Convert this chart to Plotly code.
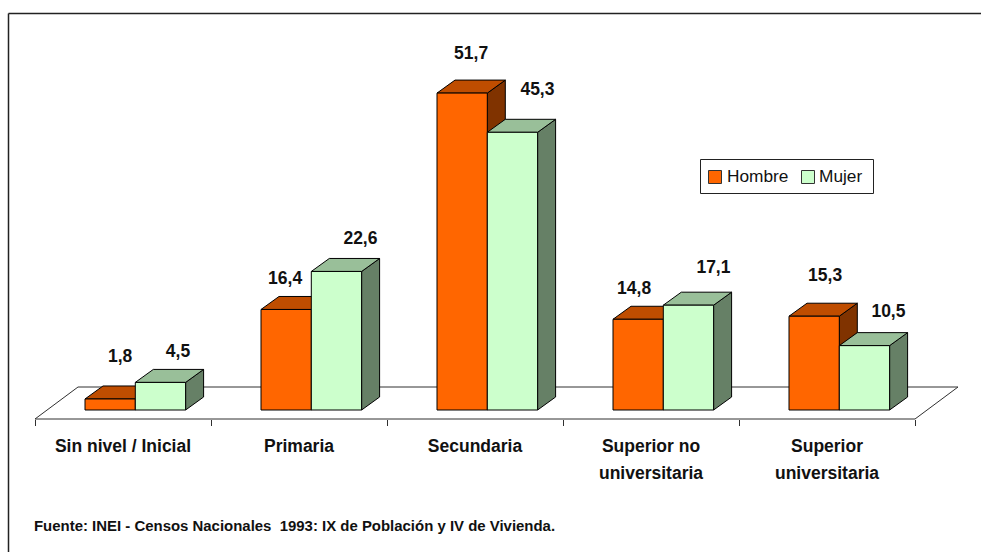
import plotly.graph_objects as go

categories = ["Sin nivel / Inicial", "Primaria", "Secundaria", "Superior no<br>universitaria", "Superior<br>universitaria"]
hombre = [1.8, 16.4, 51.7, 14.8, 15.3]
mujer = [4.5, 22.6, 45.3, 17.1, 10.5]
hombre_text = ["1,8", "16,4", "51,7", "14,8", "15,3"]
mujer_text = ["4,5", "22,6", "45,3", "17,1", "10,5"]
legend_names = ["Hombre", "Mujer"]

W, H = 981, 552
PAGE = 0.0        # page margin is removed by the post script below
PX_X = 176.0      # pixels per category
PX_Y = 6.13       # pixels per percentage point
X0_PX, Y0_PX = 35.0 - PAGE, 410.0 - PAGE
BAR_W = 50.3 / PX_X
BAR_START = 50.0 / PX_X
DX, DY = 18.0 / PX_X, 13.0 / PX_Y
FLOOR_FRONT = -9.0 / PX_Y
FLOOR_DX, FLOOR_DY = 43.0 / PX_X, 32.0 / PX_Y

# label nudges from the top-centre of each bar, in pixels
nudge_h = [(10, 41), (-1, 30), (9, 38), (-4, 30), (11, 40)]
nudge_m = [(17.5, 30), (24, 32), (25, 42), (25, 37), (24, 33)]

FONT = "Liberation Sans"
INK = "#111111"
fig = go.Figure()

def px(v):
    return (v - PAGE) / W

def py(v):
    return 1 - (v - PAGE) / H

def poly(xs, ys, fill, line="black", lw=1):
    fig.add_trace(go.Scatter(x=xs + xs[:1], y=ys + ys[:1], mode="lines", fill="toself", fillcolor=fill,
                             line=dict(color=line, width=lw), showlegend=False, hoverinfo="skip"))

# floor
fx0, fx1 = 0, len(categories)
fig.add_trace(go.Scatter(x=[fx0, fx0 + FLOOR_DX, fx1 + FLOOR_DX, fx1, fx0],
                         y=[FLOOR_FRONT, FLOOR_FRONT + FLOOR_DY, FLOOR_FRONT + FLOOR_DY, FLOOR_FRONT, FLOOR_FRONT],
                         mode="lines", fill="toself", fillcolor="white", line=dict(color="#303030", width=1),
                         showlegend=False, hoverinfo="skip"))

def bar3d(x, v, front, top, side):
    poly([x + BAR_W, x + BAR_W + DX, x + BAR_W + DX, x + BAR_W], [0, DY, v + DY, v], side)
    poly([x, x + DX, x + BAR_W + DX, x + BAR_W], [v, v + DY, v + DY, v], top)
    poly([x, x + BAR_W, x + BAR_W, x], [0, 0, v, v], front)

for i in range(len(categories)):
    x = i + BAR_START
    bar3d(x, hombre[i], "#FF6600", "#BF4D00", "#803300")
    bar3d(x + BAR_W, mujer[i], "#CCFFCC", "#99BF99", "#668066")

# data labels
lx, ly, lt = [], [], []
for i in range(len(categories)):
    x = i + BAR_START
    for cx, v, t, n in ((x + BAR_W / 2, hombre[i], hombre_text[i], nudge_h[i]),
                        (x + BAR_W * 1.5, mujer[i], mujer_text[i], nudge_m[i])):
        lx.append(cx + n[0] / PX_X); ly.append(v + n[1] / PX_Y); lt.append(t)
fig.add_trace(go.Scatter(x=lx, y=ly, text=lt, mode="text", textposition="middle center",
                         textfont=dict(family=FONT, size=17.5, color=INK, weight="bold"),
                         showlegend=False, hoverinfo="skip"))

def tick_label(s):
    return "<br>".join(f"<span style='font-size:17.5px'>{p}</span>" for p in s.split("<br>"))

shapes = [
    dict(type="line", xref="paper", yref="paper", x0=px(8.5), x1=1, y0=py(13.5), y1=py(13.5),
         line=dict(color="#222222", width=1.5), layer="below"),
    dict(type="line", xref="paper", yref="paper", x0=px(8.5), x1=px(8.5), y0=0, y1=py(13.5),
         line=dict(color="#222222", width=1.5), layer="below"),
    dict(type="rect", xref="paper", yref="paper", x0=px(700.5), x1=px(873.5), y0=py(193.5), y1=py(159.5),
         line=dict(color="#222222", width=1), fillcolor="white", layer="above"),
]
annotations = [
    dict(text="Fuente: INEI - Censos Nacionales  1993: IX de Población y IV de Vivienda.",
         xref="paper", yref="paper", x=px(32), y=py(525), xanchor="left", yanchor="middle",
         showarrow=False, font=dict(family=FONT, size=14.95, color=INK, weight="bold")),
]
for name, col, sx, tx in zip(legend_names, ("#FF6600", "#CCFFCC"), (708, 801), (727, 819)):
    shapes.append(dict(type="rect", xref="paper", yref="paper", x0=px(sx + 0.5), x1=px(sx + 13.5),
                       y0=py(183.5), y1=py(170.5), fillcolor=col, line=dict(color="#333333", width=1), layer="above"))
    annotations.append(dict(text=name, xref="paper", yref="paper", x=px(tx), y=py(176), xanchor="left",
                            yanchor="middle", showarrow=False, xshift=-2,
                            font=dict(family=FONT, size=17.3, color=INK)))

fig.update_layout(
    width=W, height=H, autosize=False, margin=dict(l=0, r=0, t=0, b=0),
    paper_bgcolor="white", plot_bgcolor="white", showlegend=False,
    xaxis=dict(range=[-X0_PX / PX_X, (W - X0_PX) / PX_X], showgrid=False, zeroline=False, showline=False,
               anchor="free", position=1 - (419.0 - PAGE) / H,
               tickmode="array", tickvals=[i + 0.5 for i in range(len(categories))],
               ticktext=[tick_label(c) for c in categories],
               ticks="", tickfont=dict(family=FONT, size=21, color=INK, weight="bold"), ticklabelstandoff=11,
               minor=dict(tickmode="array", tickvals=list(range(len(categories) + 1)), ticks="outside",
                          ticklen=6, tickcolor="#303030", tickwidth=1)),
    yaxis=dict(range=[(Y0_PX - H) / PX_Y, Y0_PX / PX_Y], visible=False),
    shapes=shapes, annotations=annotations,
)
fig.write_html("out.html", config={"displayModeBar": False}, post_script="document.body.style.margin='0';")
